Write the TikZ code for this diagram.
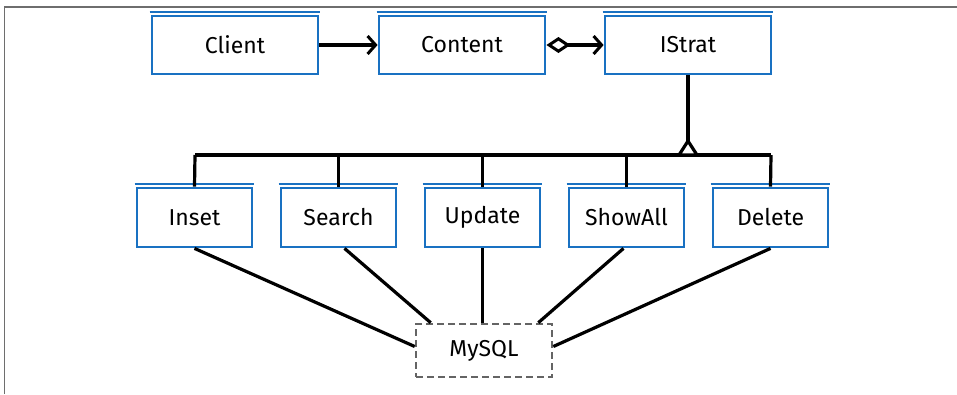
\documentclass[tikz,border=0pt]{standalone}
\usepackage{fontspec}
\setmainfont{Fira Sans}
\usetikzlibrary{arrows.meta}
\definecolor{boxblue}{RGB}{25,113,194}
\definecolor{framegray}{RGB}{110,110,110}
\definecolor{dbgray}{RGB}{100,100,100}
\tikzset{
  cls/.style={draw=boxblue, line width=2.8pt, fill=white, minimum height=58pt, inner sep=0pt, font=\fontsize{23}{26}\selectfont},
  topcls/.style={cls, minimum width=166pt},
  subcls/.style={cls, minimum width=115pt, minimum height=59pt},
  dbbox/.style={draw=dbgray, dash pattern=on 7pt off 4pt, line width=2.6pt, minimum width=136pt, minimum height=53pt, inner sep=0pt, font=\fontsize{23}{26}\selectfont},
  conn/.style={black, line width=3.2pt},
  extratop/.style={draw=boxblue, line width=2pt}
}
\begin{document}
\begin{tikzpicture}[x=1pt,y=-1pt]
\useasboundingbox (0,0) rectangle (957,394);
% frame
\draw[framegray, line width=1.8pt] (4.5,394) -- (4.5,7) -- (957,7);

% top row
\node[topcls] (client) at (235,45) {Client};
\node[topcls] (content) at (462,45) {Content};
\node[topcls] (istrat) at (688,45) {IStrat};

% bottom row
\node[subcls] (inset) at (194.5,217.5) {Inset};
\node[subcls] (search) at (338.5,217.5) {Search};
\node[subcls] (update) at (482.5,217.5) {Update};
\node[subcls] (showall) at (626.5,217.5) {ShowAll};
\node[subcls] (delete) at (770.5,217.5) {Delete};

% database
\node[dbbox] (mysql) at (484,350.5) {MySQL};

% sketchy double top edges
\foreach \b in {client,content,istrat,inset,search,update,showall,delete}{
  \draw[extratop] ([xshift=-1pt,yshift=3pt]\b.north west) -- ([xshift=1pt,yshift=3pt]\b.north east);
}

% associations
\draw[conn, -{Straight Barb[length=8pt,width=18pt,line width=3pt]}] (client.east) -- (content.west);
\draw[conn, {Diamond[open,length=24pt,width=16pt,line width=3pt]}-{Straight Barb[length=8pt,width=18pt,line width=3pt]}] (content.east) -- (istrat.west);

% inheritance
\coordinate (busL) at (195,155);
\coordinate (busR) at (771,155);
\coordinate (busI) at (688,155);
\coordinate (triTop) at (688,141);
\draw[conn] (busL) -- (busR);
\draw[conn] (istrat.south) -- (triTop);
\draw[conn, line join=round, fill=white] (triTop) -- ([xshift=-9pt]busI) -- ([xshift=9pt]busI) -- cycle;
\draw[conn] (busL) -- (inset.north);
\draw[conn] (search.north |- busL) -- (search.north);
\draw[conn] (update.north |- busL) -- (update.north);
\draw[conn] (showall.north |- busL) -- (showall.north);
\draw[conn] (busR) -- (delete.north);

% database links
\draw[conn] (inset.south) -- ([yshift=4pt]mysql.west);
\draw[conn] ([xshift=6pt]search.south) -- ([xshift=16pt]mysql.north west);
\draw[conn] (update.south) -- (update.south |- mysql.north);
\draw[conn] ([xshift=-3pt]showall.south) -- ([xshift=-15pt]mysql.north east);
\draw[conn] (delete.south) -- ([yshift=4pt]mysql.east);
\end{tikzpicture}
\end{document}
